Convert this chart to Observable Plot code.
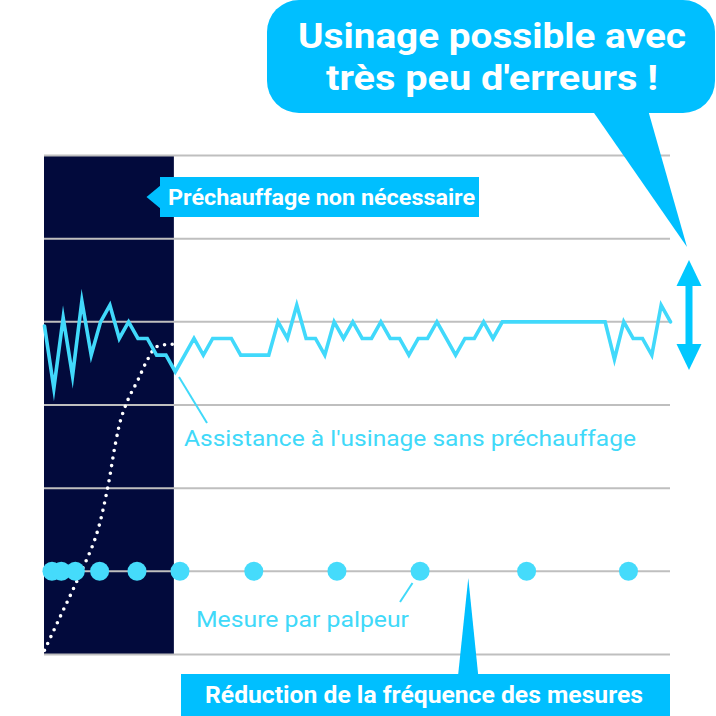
<!DOCTYPE html>
<html><head><meta charset="utf-8">
<script src="https://cdn.jsdelivr.net/npm/d3@7"></script>
<script src="https://cdn.jsdelivr.net/npm/@observablehq/plot@0.6"></script>
<style>html,body{margin:0;padding:0;background:#fff;} svg{display:block}</style>
</head><body><div id="chart"></div>
<script>
// ---- data ----
const gridLevels = [0, 1, 2, 3, 4, 5, 6];
const preheatStart = 0;
const preheatEnd = 13.9;
const machIndex = [0,1,2,3,4,5,6,7,8,9,10,11,12,13,14,15,16,17,18,19,20,21,22,23,24,25,26,27,28,29,30,31,32,33,34,35,36,37,38,39,40,41,42,43,44,45,46,47,48,49,50,51,52,53,54,55,56,57,58,59,60,61,62,63,64,65,66,67];
const machValue = [3.95,3.2,4.05,3.35,4.25,3.6,4.0,4.2,3.8,4.0,3.8,3.8,3.6,3.6,3.4,3.6,3.8,3.6,3.8,3.8,3.8,3.6,3.6,3.6,3.6,4.0,3.8,4.2,3.8,3.8,3.6,4.0,3.8,4.0,3.8,3.8,4.0,3.8,3.8,3.6,3.8,3.8,4.0,3.8,3.6,3.8,3.8,4.0,3.8,4.0,4.0,4.0,4.0,4.0,4.0,4.0,4.0,4.0,4.0,4.0,4.0,3.55,4.0,3.8,3.8,3.6,4.2,4.0];
const probeIndex = [0.8, 1.8, 3.3, 5.9, 9.9, 14.5, 22.4, 31.3, 40.2, 51.6, 62.5];
const probeLevel = 1;
const heatIndex = [0, 1.7, 3.5, 5.5, 6.7, 7.6, 8.2, 9.0, 10.0, 11.0, 12.0, 13.7];
const heatValue = [0.05, 0.46, 0.89, 1.42, 1.97, 2.54, 2.84, 3.08, 3.3, 3.54, 3.7, 3.73];
const bubbleLines = ["Usinage possible avec", "très peu d'erreurs !"];
const preheatLabel = "Préchauffage non nécessaire";
const machLabel = "Assistance à l'usinage sans préchauffage";
const probeLabel = "Mesure par palpeur";
const freqLabel = "Réduction de la fréquence des mesures";

// ---- tables ----
const preheat = [{start: preheatStart, end: preheatEnd}];
const mach = machIndex.map((x, i) => ({x, y: machValue[i]}));
const probes = probeIndex.map(x => ({x, y: probeLevel}));
const heat = heatIndex.map((x, i) => ({x, y: heatValue[i]}));

const chart = Plot.plot({
  width: 716, height: 716,
  marginLeft: 44, marginRight: 46, marginTop: 155, marginBottom: 62,
  x: {domain: [0, 67], axis: null},
  y: {domain: [0, 6], axis: null},
  marks: [
    Plot.rect(preheat, {x1: "start", x2: "end", y1: () => 0, y2: () => 6, fill: "#020a3c"}),
    Plot.ruleY(gridLevels, {stroke: "#bfbfbf", strokeWidth: 2}),
    Plot.line(heat, {x: "x", y: "y", stroke: "#ffffff", strokeWidth: 3.6, strokeDasharray: "0 7.6", strokeLinecap: "round", curve: "catmull-rom"}),
    Plot.line(mach, {x: "x", y: "y", stroke: "#41d9fb", strokeWidth: 3.6, strokeLinejoin: "miter", strokeMiterlimit: 10}),
    Plot.dot(probes, {x: "x", y: "y", r: 9.5, fill: "#45dbfb"})
  ]
});
document.getElementById("chart").appendChild(chart);

// ---- annotations ----
const svg = d3.select(chart);
const g = svg.append("g");
const blue = "#00bfff";
const cyan = "#40d9f9";
const font = "Roboto, 'Noto Sans', sans-serif";

// speech bubble
g.append("rect").attr("x", 267).attr("y", 0).attr("width", 448).attr("height", 113).attr("rx", 32).attr("fill", blue);
g.append("polygon").attr("points", "592,110 687,247 648,110").attr("fill", blue);
const bubbleY = [48, 90], bubbleW = [388, 332];
bubbleLines.forEach((t, i) => {
  g.append("text").attr("x", 492).attr("y", bubbleY[i]).attr("text-anchor", "middle")
    .attr("font-family", font).attr("font-weight", 700).attr("font-size", 35).attr("fill", "#fff")
    .attr("textLength", bubbleW[i]).attr("lengthAdjust", "spacingAndGlyphs").text(t);
});

// double arrow
g.append("rect").attr("x", 685.5).attr("y", 282).attr("width", 7).attr("height", 66).attr("fill", "#00c8ff");
g.append("polygon").attr("points", "689,260 676.5,286 701.5,286").attr("fill", "#00c8ff");
g.append("polygon").attr("points", "689,370 676.5,344 701.5,344").attr("fill", "#00c8ff");

// preheat label
g.append("rect").attr("x", 160).attr("y", 177).attr("width", 319).attr("height", 40).attr("fill", blue);
g.append("polygon").attr("points", "161,185 146.5,197 161,209").attr("fill", blue);
g.append("text").attr("x", 168).attr("y", 205).attr("text-anchor", "start").attr("font-family", font).attr("font-weight", 700)
  .attr("font-size", 22).attr("fill", "#fff").attr("textLength", 307).attr("lengthAdjust", "spacingAndGlyphs").text(preheatLabel);

// machining label
g.append("line").attr("x1", 179).attr("y1", 377).attr("x2", 207).attr("y2", 423).attr("stroke", cyan).attr("stroke-width", 2);
g.append("text").attr("x", 184).attr("y", 446).attr("text-anchor", "start").attr("font-family", font).attr("font-weight", 400)
  .attr("font-size", 22).attr("fill", cyan).attr("textLength", 452).attr("lengthAdjust", "spacingAndGlyphs").text(machLabel);

// probe label
g.append("line").attr("x1", 412.5).attr("y1", 583).attr("x2", 400).attr("y2", 602).attr("stroke", cyan).attr("stroke-width", 2);
g.append("text").attr("x", 196).attr("y", 627).attr("text-anchor", "start").attr("font-family", font).attr("font-weight", 400)
  .attr("font-size", 22).attr("fill", cyan).attr("textLength", 213).attr("lengthAdjust", "spacingAndGlyphs").text(probeLabel);

// frequency label
g.append("polygon").attr("points", "458,676 468.3,578 478.3,676").attr("fill", blue);
g.append("rect").attr("x", 181).attr("y", 674).attr("width", 489).attr("height", 42).attr("fill", blue);
g.append("text").attr("x", 205).attr("y", 703).attr("text-anchor", "start").attr("font-family", font).attr("font-weight", 700)
  .attr("font-size", 24).attr("fill", "#fff").attr("textLength", 438).attr("lengthAdjust", "spacingAndGlyphs").text(freqLabel);
</script>
</body></html>
